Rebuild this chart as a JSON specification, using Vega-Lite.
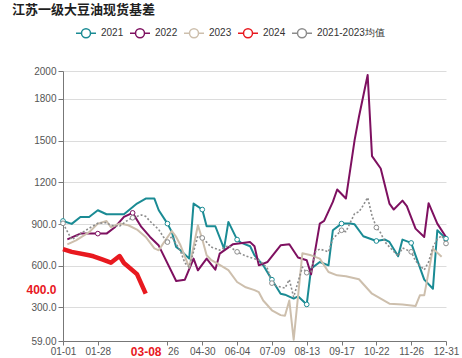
{
  "$schema": "https://vega.github.io/schema/vega-lite/v6.json",
  "width": 383,
  "height": 270,
  "autosize": {"type": "none"},
  "padding": {"left": 63, "top": 71, "right": 16, "bottom": 17},
  "background": "white",
  "title": {
    "text": "江苏一级大豆油现货基差",
    "anchor": "start",
    "frame": "group",
    "dx": -51,
    "offset": 5,
    "font": "Noto Sans CJK SC",
    "fontSize": 13,
    "fontWeight": "bold",
    "color": "#1f1f1f"
  },
  "config": {"view": {"stroke": null}, "font": "Liberation Sans"},
  "datasets": {
    "series": [
      {"s":"2021","d":"01-01","v":922},{"s":"2021","d":"01-08","v":901},{"s":"2021","d":"01-14","v":951},{"s":"2021","d":"01-21","v":951},{"s":"2021","d":"01-28","v":999},{"s":"2021","d":"02-04","v":970},{"s":"2021","d":"02-18","v":970},{"s":"2021","d":"03-01","v":1047},{"s":"2021","d":"03-08","v":1083},{"s":"2021","d":"03-15","v":1083},{"s":"2021","d":"03-18","v":999},{"s":"2021","d":"03-26","v":903},{"s":"2021","d":"03-30","v":843},{"s":"2021","d":"04-04","v":735},{"s":"2021","d":"04-08","v":711},{"s":"2021","d":"04-17","v":651},{"s":"2021","d":"04-21","v":1047},{"s":"2021","d":"04-30","v":1004},{"s":"2021","d":"05-04","v":884},{"s":"2021","d":"05-13","v":884},{"s":"2021","d":"05-22","v":723},{"s":"2021","d":"05-26","v":915},{"s":"2021","d":"06-04","v":788},{"s":"2021","d":"06-08","v":764},{"s":"2021","d":"06-17","v":740},{"s":"2021","d":"06-21","v":675},{"s":"2021","d":"06-30","v":603},{"s":"2021","d":"07-09","v":500},{"s":"2021","d":"07-18","v":399},{"s":"2021","d":"07-22","v":392},{"s":"2021","d":"07-31","v":364},{"s":"2021","d":"08-04","v":380},{"s":"2021","d":"08-13","v":322},{"s":"2021","d":"08-17","v":579},{"s":"2021","d":"08-26","v":627},{"s":"2021","d":"09-04","v":603},{"s":"2021","d":"09-08","v":855},{"s":"2021","d":"09-17","v":903},{"s":"2021","d":"09-26","v":903},{"s":"2021","d":"09-30","v":898},{"s":"2021","d":"10-09","v":812},{"s":"2021","d":"10-22","v":778},{"s":"2021","d":"10-31","v":788},{"s":"2021","d":"11-04","v":771},{"s":"2021","d":"11-13","v":668},{"s":"2021","d":"11-17","v":788},{"s":"2021","d":"11-26","v":764},{"s":"2021","d":"11-30","v":675},{"s":"2021","d":"12-09","v":500},{"s":"2021","d":"12-18","v":435},{"s":"2021","d":"12-22","v":855},{"s":"2021","d":"12-31","v":795},
      {"s":"2022","d":"01-04","v":790},{"s":"2022","d":"01-14","v":831},{"s":"2022","d":"01-28","v":831},{"s":"2022","d":"02-04","v":831},{"s":"2022","d":"02-11","v":879},{"s":"2022","d":"02-18","v":951},{"s":"2022","d":"02-26","v":980},{"s":"2022","d":"03-04","v":879},{"s":"2022","d":"03-11","v":807},{"s":"2022","d":"03-18","v":745},{"s":"2022","d":"04-04","v":490},{"s":"2022","d":"04-13","v":500},{"s":"2022","d":"04-21","v":651},{"s":"2022","d":"04-26","v":567},{"s":"2022","d":"05-04","v":651},{"s":"2022","d":"05-13","v":572},{"s":"2022","d":"05-17","v":687},{"s":"2022","d":"05-31","v":754},{"s":"2022","d":"06-17","v":770},{"s":"2022","d":"06-21","v":740},{"s":"2022","d":"06-26","v":603},{"s":"2022","d":"07-05","v":627},{"s":"2022","d":"07-18","v":747},{"s":"2022","d":"07-26","v":754},{"s":"2022","d":"08-04","v":659},{"s":"2022","d":"08-13","v":639},{"s":"2022","d":"08-17","v":538},{"s":"2022","d":"08-26","v":903},{"s":"2022","d":"08-30","v":922},{"s":"2022","d":"09-08","v":1059},{"s":"2022","d":"09-13","v":1148},{"s":"2022","d":"09-21","v":1083},{"s":"2022","d":"09-30","v":1503},{"s":"2022","d":"10-04","v":1671},{"s":"2022","d":"10-13","v":1971},{"s":"2022","d":"10-18","v":1388},{"s":"2022","d":"10-26","v":1299},{"s":"2022","d":"11-04","v":1047},{"s":"2022","d":"11-08","v":1004},{"s":"2022","d":"11-17","v":1068},{"s":"2022","d":"11-22","v":1028},{"s":"2022","d":"11-30","v":867},{"s":"2022","d":"12-09","v":807},{"s":"2022","d":"12-13","v":1050},{"s":"2022","d":"12-22","v":903},{"s":"2022","d":"12-31","v":807},
      {"s":"2023","d":"01-04","v":754},{"s":"2023","d":"01-11","v":783},{"s":"2023","d":"01-21","v":841},{"s":"2023","d":"01-28","v":903},{"s":"2023","d":"02-04","v":922},{"s":"2023","d":"02-08","v":877},{"s":"2023","d":"02-15","v":903},{"s":"2023","d":"02-22","v":891},{"s":"2023","d":"03-01","v":860},{"s":"2023","d":"03-08","v":807},{"s":"2023","d":"03-15","v":725},{"s":"2023","d":"03-18","v":711},{"s":"2023","d":"03-22","v":759},{"s":"2023","d":"03-30","v":850},{"s":"2023","d":"04-04","v":807},{"s":"2023","d":"04-08","v":747},{"s":"2023","d":"04-17","v":587},{"s":"2023","d":"04-26","v":891},{"s":"2023","d":"04-30","v":790},{"s":"2023","d":"05-04","v":675},{"s":"2023","d":"05-09","v":643},{"s":"2023","d":"05-17","v":607},{"s":"2023","d":"05-26","v":569},{"s":"2023","d":"06-04","v":483},{"s":"2023","d":"06-13","v":445},{"s":"2023","d":"06-21","v":425},{"s":"2023","d":"06-26","v":410},{"s":"2023","d":"06-30","v":350},{"s":"2023","d":"07-09","v":280},{"s":"2023","d":"07-18","v":245},{"s":"2023","d":"07-22","v":240},{"s":"2023","d":"07-26","v":350},{"s":"2023","d":"07-31","v":68},{"s":"2023","d":"08-09","v":690},{"s":"2023","d":"08-17","v":675},{"s":"2023","d":"08-26","v":651},{"s":"2023","d":"09-04","v":555},{"s":"2023","d":"09-13","v":531},{"s":"2023","d":"09-21","v":525},{"s":"2023","d":"10-04","v":503},{"s":"2023","d":"10-18","v":399},{"s":"2023","d":"11-04","v":327},{"s":"2023","d":"11-17","v":322},{"s":"2023","d":"11-30","v":310},{"s":"2023","d":"12-05","v":387},{"s":"2023","d":"12-09","v":387},{"s":"2023","d":"12-18","v":723},{"s":"2023","d":"12-27","v":665},
      {"s":"2024","d":"01-01","v":720},{"s":"2024","d":"01-08","v":700},{"s":"2024","d":"01-21","v":675},{"s":"2024","d":"01-25","v":668},{"s":"2024","d":"02-01","v":645},{"s":"2024","d":"02-08","v":622},{"s":"2024","d":"02-15","v":670},{"s":"2024","d":"02-18","v":620},{"s":"2024","d":"03-01","v":540},{"s":"2024","d":"03-08","v":400},
      {"s":"2021-2023均值","d":"01-01","v":905},{"s":"2021-2023均值","d":"01-08","v":787},{"s":"2021-2023均值","d":"01-14","v":830},{"s":"2021-2023均值","d":"01-21","v":870},{"s":"2021-2023均值","d":"01-28","v":905},{"s":"2021-2023均值","d":"02-04","v":910},{"s":"2021-2023均值","d":"02-08","v":890},{"s":"2021-2023均值","d":"02-15","v":885},{"s":"2021-2023均值","d":"02-22","v":930},{"s":"2021-2023均值","d":"02-26","v":945},{"s":"2021-2023均值","d":"03-04","v":965},{"s":"2021-2023均值","d":"03-08","v":955},{"s":"2021-2023均值","d":"03-11","v":920},{"s":"2021-2023均值","d":"03-18","v":860},{"s":"2021-2023均值","d":"03-22","v":810},{"s":"2021-2023均值","d":"03-26","v":770},{"s":"2021-2023均值","d":"03-30","v":810},{"s":"2021-2023均值","d":"04-08","v":705},{"s":"2021-2023均值","d":"04-13","v":620},{"s":"2021-2023均值","d":"04-17","v":590},{"s":"2021-2023均值","d":"04-26","v":815},{"s":"2021-2023均值","d":"04-30","v":800},{"s":"2021-2023均值","d":"05-04","v":770},{"s":"2021-2023均值","d":"05-09","v":735},{"s":"2021-2023均值","d":"05-17","v":712},{"s":"2021-2023均值","d":"05-26","v":745},{"s":"2021-2023均值","d":"06-04","v":700},{"s":"2021-2023均值","d":"06-13","v":670},{"s":"2021-2023均值","d":"06-21","v":650},{"s":"2021-2023均值","d":"06-26","v":640},{"s":"2021-2023均值","d":"06-30","v":615},{"s":"2021-2023均值","d":"07-05","v":578},{"s":"2021-2023均值","d":"07-09","v":475},{"s":"2021-2023均值","d":"07-13","v":455},{"s":"2021-2023均值","d":"07-22","v":440},{"s":"2021-2023均值","d":"07-26","v":500},{"s":"2021-2023均值","d":"07-31","v":375},{"s":"2021-2023均值","d":"08-09","v":590},{"s":"2021-2023均值","d":"08-13","v":550},{"s":"2021-2023均值","d":"08-17","v":555},{"s":"2021-2023均值","d":"08-22","v":700},{"s":"2021-2023均值","d":"08-26","v":720},{"s":"2021-2023均值","d":"09-04","v":700},{"s":"2021-2023均值","d":"09-08","v":795},{"s":"2021-2023均值","d":"09-17","v":855},{"s":"2021-2023均值","d":"09-21","v":845},{"s":"2021-2023均值","d":"09-30","v":975},{"s":"2021-2023均值","d":"10-04","v":987},{"s":"2021-2023均值","d":"10-09","v":1035},{"s":"2021-2023均值","d":"10-13","v":1090},{"s":"2021-2023均值","d":"10-18","v":960},{"s":"2021-2023均值","d":"10-22","v":875},{"s":"2021-2023均值","d":"10-26","v":835},{"s":"2021-2023均值","d":"10-31","v":770},{"s":"2021-2023均值","d":"11-04","v":735},{"s":"2021-2023均值","d":"11-13","v":670},{"s":"2021-2023均值","d":"11-17","v":728},{"s":"2021-2023均值","d":"11-26","v":700},{"s":"2021-2023均值","d":"11-30","v":635},{"s":"2021-2023均值","d":"12-09","v":570},{"s":"2021-2023均值","d":"12-13","v":627},{"s":"2021-2023均值","d":"12-18","v":735},{"s":"2021-2023均值","d":"12-22","v":790},{"s":"2021-2023均值","d":"12-27","v":817},{"s":"2021-2023均值","d":"12-31","v":760}
    ]
  },
  "encoding": {
    "x": {
      "field": "d",
      "type": "nominal",
      "scale": {
        "type": "point",
        "padding": 0,
        "domain": ["01-01","01-04","01-08","01-11","01-14","01-18","01-21","01-25","01-28","02-01","02-04","02-08","02-11","02-15","02-18","02-22","02-26","03-01","03-04","03-08","03-11","03-15","03-18","03-22","03-26","03-30","04-04","04-08","04-13","04-17","04-21","04-26","04-30","05-04","05-09","05-13","05-17","05-22","05-26","05-31","06-04","06-08","06-13","06-17","06-21","06-26","06-30","07-05","07-09","07-13","07-18","07-22","07-26","07-31","08-04","08-09","08-13","08-17","08-22","08-26","08-30","09-04","09-08","09-13","09-17","09-21","09-26","09-30","10-04","10-09","10-13","10-18","10-22","10-26","10-31","11-04","11-08","11-13","11-17","11-22","11-26","11-30","12-05","12-09","12-13","12-18","12-22","12-27","12-31"]
      },
      "axis": {
        "title": null,
        "values": ["01-01","01-28","03-08","03-26","04-30","06-04","07-09","08-13","09-17","10-22","11-26","12-31"],
        "labelExpr": "datum.value == '03-26' ? '26' : datum.label",
        "labelAngle": 0,
        "labelOverlap": false,
        "labelFont": "Liberation Sans",
        "labelFontSize": {"condition": {"test": "datum.value == '03-08'", "value": 12}, "value": 10},
        "labelFontWeight": {"condition": {"test": "datum.value == '03-08'", "value": "bold"}, "value": "normal"},
        "labelColor": {"condition": {"test": "datum.value == '03-08'", "value": "#e8191f"}, "value": "#555555"},
        "labelAlign": {"condition": {"test": "datum.value == '03-26'", "value": "left"}, "value": "center"},
        "labelPadding": 1,
        "tickSize": 4,
        "tickColor": "#777777",
        "tickOpacity": {"condition": {"test": "datum.value == '03-08'", "value": 0}, "value": 1},
        "domainColor": "#777777",
        "grid": false
      }
    },
    "y": {
      "field": "v",
      "type": "quantitative",
      "scale": {"domain": [59, 2000], "nice": false, "zero": false},
      "axis": {
        "title": null,
        "values": [59, 300, 400, 600, 900, 1200, 1500, 1800, 2000],
        "format": ".4r",
        "labelOverlap": false,
        "labelFont": "Liberation Sans",
        "labelFontSize": {"condition": {"test": "datum.value == 400", "value": 12}, "value": 10},
        "labelFontWeight": {"condition": {"test": "datum.value == 400", "value": "bold"}, "value": "normal"},
        "labelColor": {"condition": {"test": "datum.value == 400", "value": "#e8191f"}, "value": "#555555"},
        "labelOffset": {"condition": {"test": "datum.value == 400", "value": -4}, "value": 0},
        "labelPadding": 2,
        "tickSize": 5,
        "tickColor": "#777777",
        "tickOpacity": {"condition": {"test": "datum.value == 400", "value": 0}, "value": 1},
        "domainColor": "#777777",
        "grid": true,
        "gridColor": "#dcdcdc",
        "gridOpacity": {"condition": {"test": "datum.value == 400 || datum.value == 59", "value": 0}, "value": 1}
      }
    }
  },
  "layer": [
    {
      "data": {"values": [{"t": "紫金天风期货"}]},
      "mark": {"type": "text", "font": "Noto Sans CJK SC", "fontSize": 18, "color": "#d9d9d9"},
      "encoding": {
        "text": {"field": "t", "type": "nominal"},
        "x": {"datum": "06-04", "type": "nominal"},
        "y": {"datum": 1140, "type": "quantitative"}
      }
    },
    {
      "data": {"name": "series"},
      "transform": [{"filter": "datum.s == '2021' || datum.s == '2022' || datum.s == '2023'"}],
      "mark": {"type": "line", "strokeJoin": "round", "strokeWidth": 2},
      "encoding": {
        "color": {
          "field": "s",
          "type": "nominal",
          "scale": {
            "domain": ["2021", "2022", "2023", "2024", "2021-2023均值"],
            "range": ["#1a8b94", "#7e1060", "#cdbfad", "#e8191f", "#8c8c8c"]
          },
          "legend": {
            "orient": "none",
            "legendX": 12,
            "legendY": -49,
            "direction": "horizontal",
            "title": null,
            "padding": 0,
            "symbolType": "M-1,0L-0.45,0M0.45,0L1,0M0.45,0A0.45,0.45,0,1,1,-0.45,0A0.45,0.45,0,1,1,0.45,0Z",
            "symbolSize": 400,
            "symbolStrokeWidth": 1.5,
            "symbolFillColor": "white",
            "labelFont": "Liberation Sans",
            "labelFontSize": 10,
            "labelColor": "#333333",
            "labelOffset": 4,
            "columnPadding": 3
          }
        }
      }
    },
    {
      "data": {"name": "series"},
      "transform": [{"filter": "datum.s == '2024'"}],
      "mark": {"type": "line", "strokeJoin": "round", "strokeWidth": 4.5},
      "encoding": {
        "color": {"field": "s", "type": "nominal"}
      }
    },
    {
      "data": {"name": "series"},
      "transform": [{"filter": "datum.s == '2021-2023均值'"}],
      "mark": {"type": "line", "strokeJoin": "round", "strokeWidth": 1.6, "strokeDash": [2, 2]},
      "encoding": {
        "color": {"field": "s", "type": "nominal"}
      }
    },
    {
      "data": {"name": "series"},
      "transform": [
        {"filter": "((datum.s == '2021' || datum.s == '2021-2023均值') && indexof(['01-01','03-26','04-30','06-04','07-09','08-13','09-17','10-22','11-26','12-31'], datum.d) >= 0) || (datum.s == '2022' && indexof(['01-28','02-26'], datum.d) >= 0) || (datum.s == '2021-2023均值' && datum.d == '02-26')"}
      ],
      "mark": {"type": "point", "shape": "circle", "size": 22, "filled": true, "fill": "white", "strokeWidth": 1, "opacity": 1},
      "encoding": {
        "stroke": {
          "field": "s",
          "type": "nominal",
          "scale": {
            "domain": ["2021", "2022", "2023", "2024", "2021-2023均值"],
            "range": ["#1a8b94", "#7e1060", "#cdbfad", "#e8191f", "#8c8c8c"]
          },
          "legend": null
        }
      }
    }
  ]
}
